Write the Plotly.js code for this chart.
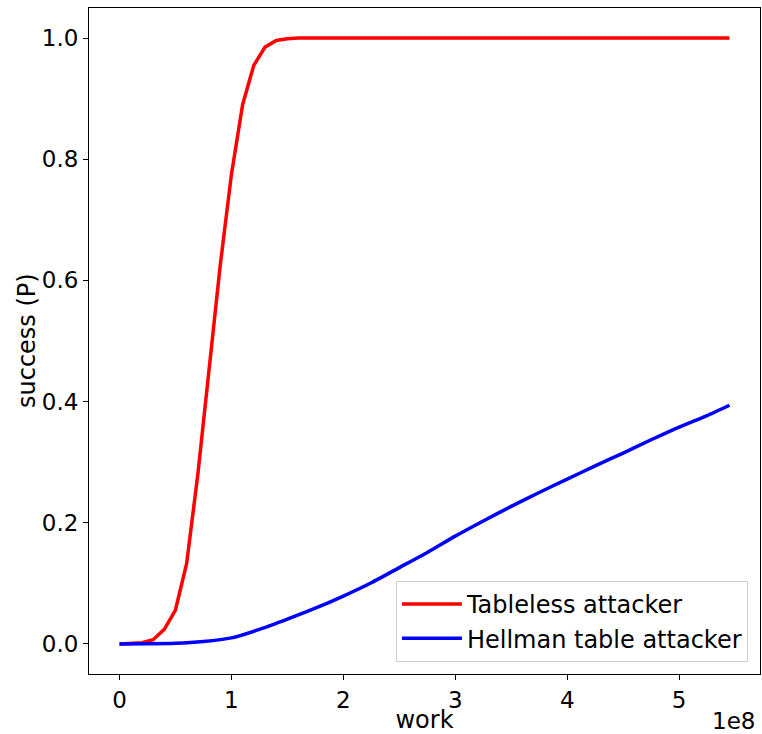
<!DOCTYPE html>
<html>
<head>
<meta charset="utf-8">
<script src="https://cdn.plot.ly/plotly-3.0.1.min.js"></script>
<style>html,body{margin:0;padding:0;background:#fff;}#chart{width:762px;height:734px;}</style>
</head>
<body>
<div id="chart"></div>
<script>
// Tableless attacker (red)
const tablelessWork = [0, 0.1e8, 0.2e8, 0.3e8, 0.4e8, 0.5e8, 0.6e8, 0.7e8, 0.8e8, 0.9e8, 1.0e8, 1.1e8, 1.2e8, 1.3e8, 1.4e8, 1.5e8, 1.6e8, 1.8e8, 2.0e8, 3.0e8, 4.0e8, 5.0e8, 5.45e8];
const tablelessP    = [0, 0.0003, 0.002, 0.007, 0.024, 0.056, 0.133, 0.28, 0.45, 0.625, 0.775, 0.89, 0.955, 0.985, 0.996, 0.999, 1.0, 1.0, 1.0, 1.0, 1.0, 1.0, 1.0];
// Hellman table attacker (blue)
const hellmanWork = [0, 0.25e8, 0.5e8, 0.75e8, 1.0e8, 1.25e8, 1.5e8, 1.75e8, 2.0e8, 2.25e8, 2.5e8, 2.75e8, 3.0e8, 3.25e8, 3.5e8, 3.75e8, 4.0e8, 4.25e8, 4.5e8, 4.75e8, 5.0e8, 5.25e8, 5.45e8];
const hellmanP    = [0, 0.0002, 0.001, 0.004, 0.010, 0.024, 0.041, 0.059, 0.079, 0.101, 0.126, 0.151, 0.178, 0.203, 0.227, 0.250, 0.272, 0.294, 0.315, 0.337, 0.358, 0.377, 0.394];
const seriesNames = ['Tableless attacker', 'Hellman table attacker'];
const xTickVals = [0, 1e8, 2e8, 3e8, 4e8, 5e8];
const xTickText = ['0', '1', '2', '3', '4', '5'];
const yTickVals = [0, 0.2, 0.4, 0.6, 0.8, 1.0];

const font = {family: 'DejaVu Sans, sans-serif', size: 24, color: '#000'};
const tickFont = {family: 'DejaVu Sans, sans-serif', size: 23, color: '#000'};
const traces = [
  {x: tablelessWork, y: tablelessP, name: seriesNames[0], mode: 'lines', line: {color: '#ff0000', width: 3.5}},
  {x: hellmanWork, y: hellmanP, name: seriesNames[1], mode: 'lines', line: {color: '#0000ff', width: 3.5, shape: 'spline', smoothing: 0.6}}
];
const layout = {
  width: 762, height: 734,
  margin: {l: 89, r: 2, t: 8, b: 60, pad: 0},
  paper_bgcolor: '#fff', plot_bgcolor: '#fff',
  font: font,
  showlegend: true,
  xaxis: {
    range: [-0.2725e8, 5.7225e8], tickvals: xTickVals, ticktext: xTickText,
    showgrid: false, zeroline: false, showline: true, mirror: true, linecolor: '#000', linewidth: 1,
    ticks: 'outside', ticklen: 5, tickcolor: '#000', tickfont: tickFont,
    title: {text: 'work', font: font, standoff: 10}
  },
  yaxis: {
    range: [-0.0496, 1.0496], tickvals: yTickVals, tickformat: '.1f',
    showgrid: false, zeroline: false, showline: true, mirror: true, linecolor: '#000', linewidth: 1,
    ticks: 'outside', ticklen: 5, tickcolor: '#000', tickfont: tickFont
  },
  legend: {
    x: 0.982, y: 0.018, xanchor: 'right', yanchor: 'bottom',
    bgcolor: 'rgba(255,255,255,0.9)', bordercolor: '#cccccc', borderwidth: 1,
    font: font, tracegroupgap: 0, itemwidth: 60
  },
  annotations: [
    {text: 'success (P)', textangle: -90, xref: 'paper', yref: 'paper', x: 0, y: 0.5, xanchor: 'center', yanchor: 'middle', xshift: -62, showarrow: false, font: font},
    {text: '1e8', xref: 'paper', yref: 'paper', x: 1, y: 0, xanchor: 'right', yanchor: 'top', yshift: -32, xshift: -3, showarrow: false, font: tickFont}
  ]
};
Plotly.newPlot('chart', traces, layout, {displayModeBar: false, staticPlot: true});
</script>
</body>
</html>
